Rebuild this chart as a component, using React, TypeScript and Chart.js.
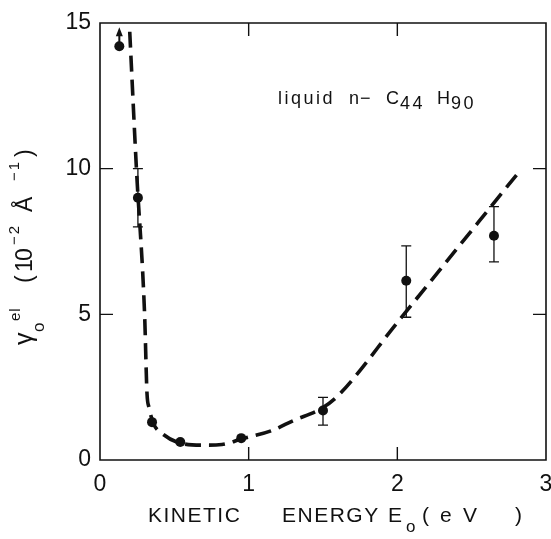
import React, { useEffect, useRef } from "react";
import { Chart, registerables } from "chart.js";

Chart.register(...registerables);

// Measured scattering rate vs. kinetic energy
const energy = [0.13, 0.255, 0.35, 0.54, 0.95, 1.5, 2.06, 2.65];
const gamma = [14.2, 9.0, 1.3, 0.62, 0.75, 1.7, 6.15, 7.7];
const errLow: (number | null)[] = [null, 8.0, null, null, null, 1.2, 4.9, 6.8];
const errHigh: (number | null)[] = [null, 10.0, null, null, null, 2.15, 7.35, 8.7];
// first point is only a lower limit
const lowerLimit = [true, false, false, false, false, false, false, false];

// Dashed guide curve
const fitEnergy = [0.2, 0.245, 0.3, 0.316, 0.33, 0.36, 0.42, 0.54, 0.7, 0.82, 0.95, 1.15, 1.3, 1.5, 1.6, 2.0, 2.82];
const fitGamma = [14.7, 10.0, 5.0, 2.3, 1.8, 1.25, 0.9, 0.58, 0.51, 0.53, 0.72, 1.0, 1.35, 1.8, 2.2, 4.72, 9.9];

const xTicks = [0, 1, 2, 3];
const yTicks = [0, 5, 10, 15];

const INK = "#111";
const FAMILY = "'Liberation Sans', Arial, sans-serif";

type Piece = { t: string; u: number; dy: number; size: number; ls?: number };

function drawPieces(ctx: CanvasRenderingContext2D, pieces: Piece[]) {
  for (const p of pieces) {
    ctx.font = `${p.size}px ${FAMILY}`;
    (ctx as any).letterSpacing = `${p.ls ?? 0}px`;
    ctx.fillText(p.t, p.u, p.dy);
  }
  (ctx as any).letterSpacing = "0px";
}

const decorations = {
  id: "decorations",
  afterDraw(chart: any) {
    const ctx: CanvasRenderingContext2D = chart.ctx;
    const xs = chart.scales.x;
    const ys = chart.scales.y;
    const left = xs.getPixelForValue(xTicks[0]);
    const right = xs.getPixelForValue(xTicks[xTicks.length - 1]);
    const top = ys.getPixelForValue(yTicks[yTicks.length - 1]);
    const bottom = ys.getPixelForValue(yTicks[0]);

    ctx.save();
    ctx.setLineDash([]);
    ctx.strokeStyle = INK;
    ctx.fillStyle = INK;

    // frame
    ctx.lineWidth = 1.6;
    ctx.beginPath();
    ctx.moveTo(left, top);
    ctx.lineTo(right, top);
    ctx.lineTo(right, bottom);
    ctx.lineTo(left, bottom);
    ctx.closePath();
    ctx.stroke();

    // inward tick marks on all four sides
    const tl = 13;
    ctx.lineWidth = 1.4;
    ctx.beginPath();
    for (const v of xTicks.slice(1, -1)) {
      const px = xs.getPixelForValue(v);
      ctx.moveTo(px, bottom);
      ctx.lineTo(px, bottom - tl);
      ctx.moveTo(px, top);
      ctx.lineTo(px, top + tl);
    }
    for (const v of yTicks.slice(1, -1)) {
      const py = ys.getPixelForValue(v);
      ctx.moveTo(left, py);
      ctx.lineTo(left + tl, py);
      ctx.moveTo(right, py);
      ctx.lineTo(right - tl, py);
    }
    ctx.stroke();

    // error bars
    ctx.lineWidth = 1.3;
    ctx.beginPath();
    energy.forEach((e, i) => {
      const lo = errLow[i];
      const hi = errHigh[i];
      if (lo == null || hi == null) return;
      const px = xs.getPixelForValue(e);
      const pLo = ys.getPixelForValue(lo);
      const pHi = ys.getPixelForValue(hi);
      ctx.moveTo(px, pLo);
      ctx.lineTo(px, pHi);
      ctx.moveTo(px - 5, pLo);
      ctx.lineTo(px + 5, pLo);
      ctx.moveTo(px - 5, pHi);
      ctx.lineTo(px + 5, pHi);
    });
    ctx.stroke();

    // lower-limit arrows
    energy.forEach((e, i) => {
      if (!lowerLimit[i]) return;
      const px = xs.getPixelForValue(e);
      const py = ys.getPixelForValue(gamma[i]);
      ctx.lineWidth = 2;
      ctx.beginPath();
      ctx.moveTo(px, py - 4);
      ctx.lineTo(px, py - 11);
      ctx.stroke();
      ctx.beginPath();
      ctx.moveTo(px, py - 19);
      ctx.lineTo(px - 3.5, py - 10);
      ctx.lineTo(px + 3.5, py - 10);
      ctx.closePath();
      ctx.fill();
    });

    ctx.textBaseline = "alphabetic";
    ctx.textAlign = "left";

    // y-axis title, rotated
    ctx.save();
    ctx.translate(32, 345);
    ctx.rotate(-Math.PI / 2);
    drawPieces(ctx, [
      { t: "γ", u: 0, dy: 0, size: 25 },
      { t: "o", u: 13, dy: 12, size: 17 },
      { t: "el", u: 24, dy: -12, size: 15, ls: 1 },
      { t: "(", u: 62, dy: 0, size: 23 },
      { t: "1", u: 73, dy: 0, size: 23 },
      { t: "0", u: 84, dy: 0, size: 23 },
      { t: "−2", u: 100, dy: -13, size: 15, ls: 2 },
      { t: "Å", u: 133, dy: 0, size: 23 },
      { t: "−1", u: 164, dy: -13, size: 15, ls: 2 },
      { t: ")", u: 188, dy: 0, size: 23 },
    ]);
    ctx.restore();

    // x-axis title
    drawPieces(ctx, [
      { t: "KINETIC", u: 148, dy: 522, size: 21, ls: 1.5 },
      { t: "ENERGY", u: 282, dy: 522, size: 21, ls: 1.5 },
      { t: "E", u: 388, dy: 522, size: 21 },
      { t: "o", u: 406, dy: 532, size: 17 },
      { t: "(", u: 422, dy: 522, size: 21 },
      { t: "e", u: 440, dy: 522, size: 21 },
      { t: "V", u: 463, dy: 522, size: 21 },
      { t: ")", u: 515, dy: 522, size: 21 },
    ]);

    // sample label
    drawPieces(ctx, [
      { t: "liquid", u: 278, dy: 104, size: 18, ls: 2.5 },
      { t: "n", u: 349, dy: 104, size: 18 },
      { t: "−", u: 360, dy: 104, size: 18 },
      { t: "C", u: 386, dy: 104, size: 18 },
      { t: "44", u: 400, dy: 109, size: 18, ls: 2.5 },
      { t: "H", u: 437, dy: 104, size: 18 },
      { t: "90", u: 451, dy: 109, size: 18, ls: 2.5 },
    ]);

    ctx.restore();
  },
};

export default function App() {
  const canvasRef = useRef<HTMLCanvasElement | null>(null);

  useEffect(() => {
    const canvas = canvasRef.current;
    if (!canvas) return;
    const chart = new Chart(canvas, {
      type: "scatter",
      data: {
        datasets: [
          {
            type: "line",
            label: "fit",
            data: fitEnergy.map((x, i) => ({ x, y: fitGamma[i] })),
            borderColor: INK,
            borderWidth: 3.6,
            borderDash: [16, 8],
            cubicInterpolationMode: "monotone",
            pointRadius: 0,
            fill: false,
            order: 2,
          } as any,
          {
            type: "scatter",
            label: "data",
            data: energy.map((x, i) => ({ x, y: gamma[i] })),
            backgroundColor: INK,
            borderColor: INK,
            pointRadius: 5,
            borderWidth: 0,
            order: 1,
          },
        ],
      },
      options: {
        responsive: false,
        animation: false,
        layout: { padding: { left: 0, top: 23, right: 5, bottom: 0 } },
        plugins: { legend: { display: false }, tooltip: { enabled: false } },
        scales: {
          x: {
            type: "linear",
            min: 0,
            max: 3,
            grid: { display: false, drawTicks: false },
            border: { display: false },
            ticks: {
              color: INK,
              font: { family: FAMILY, size: 23 },
              padding: 11,
              maxRotation: 0,
              autoSkip: false,
            },
            afterBuildTicks: (s: any) => {
              s.ticks = xTicks.map((v) => ({ value: v }));
            },
            afterFit: (s: any) => {
              s.height = 79;
              s.paddingLeft = 0;
              s.paddingRight = 0;
            },
          },
          y: {
            type: "linear",
            min: 0,
            max: 15,
            grid: { display: false, drawTicks: false },
            border: { display: false },
            ticks: {
              color: INK,
              font: { family: FAMILY, size: 23 },
              padding: 9,
              autoSkip: false,
            },
            afterBuildTicks: (s: any) => {
              s.ticks = yTicks.map((v) => ({ value: v }));
            },
            afterFit: (s: any) => {
              s.width = 100;
              s.paddingTop = 0;
              s.paddingBottom = 0;
            },
          },
        },
      },
      plugins: [decorations],
    });
    return () => chart.destroy();
  }, []);

  return (
    <div style={{ position: "absolute", left: 0, top: 0, width: 551, height: 539, background: "#fff" }}>
      <canvas ref={canvasRef} width={551} height={539} style={{ display: "block" }} />
    </div>
  );
}
